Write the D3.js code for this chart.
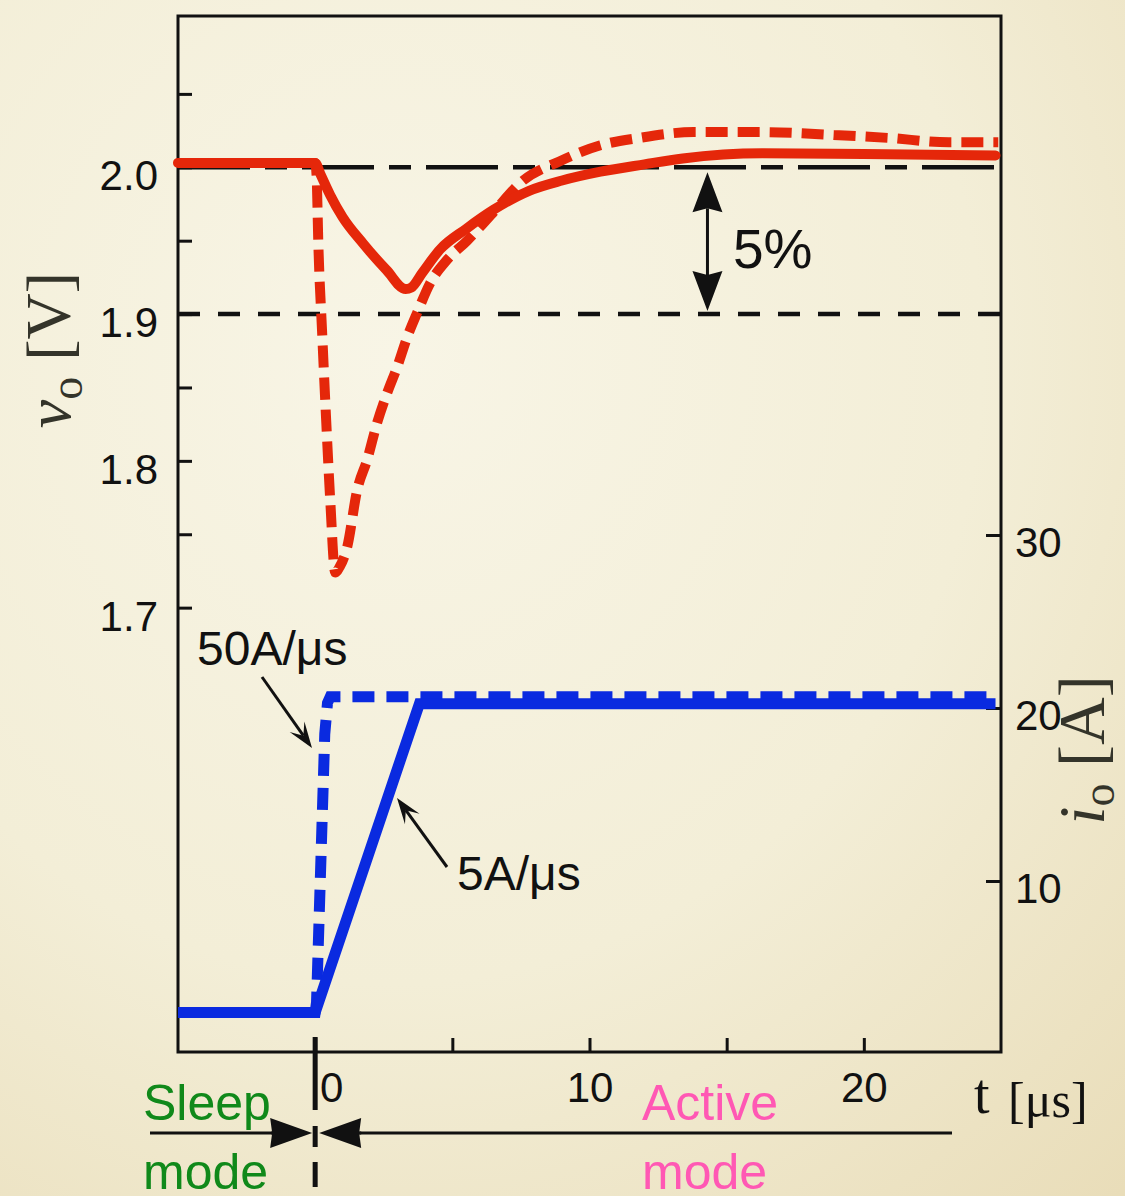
<!DOCTYPE html>
<html>
<head>
<meta charset="utf-8">
<script src="https://cdn.jsdelivr.net/npm/d3@7"></script>
<style>
  body { margin: 0; }
  svg { display: block; }
</style>
</head>
<body>
<div id="chart"></div>
<script>
"use strict";

// output voltage v_o [V] for the two load steps (t in us)
var voSlow = [
  [-5, 2.003], [0, 2.003], [0.2, 1.995], [0.55, 1.981], [1.0, 1.966], [1.75, 1.948],
  [2.6, 1.930], [3.3, 1.917], [3.5, 1.918], [3.9, 1.928], [4.55, 1.944], [5.5, 1.958],
  [6.5, 1.971], [7.8, 1.984], [9, 1.991], [10.4, 1.997], [12, 2.002], [13.4, 2.006],
  [16.3, 2.0095], [20, 2.009], [24.8, 2.008]
];
var voFast = [
  [-5, 2.003], [0, 2.003], [0.05, 1.995], [0.12, 1.945], [0.25, 1.889], [0.4, 1.828],
  [0.55, 1.773], [0.73, 1.724], [0.9, 1.728], [1.17, 1.7415], [1.53, 1.780], [1.9, 1.801],
  [2.26, 1.826], [2.62, 1.846], [2.99, 1.864], [3.35, 1.884], [3.72, 1.901], [4.19, 1.921],
  [4.81, 1.937], [5.54, 1.950], [6.48, 1.969], [7.58, 1.991], [8.9, 2.004], [10.4, 2.015],
  [11.8, 2.020], [13.8, 2.024], [16.2, 2.024], [18.9, 2.022], [20.9, 2.020], [23.1, 2.017],
  [24.9, 2.017]
];

// load current i_o [A]
var ioSlow = [[-5, 2.4], [0, 2.4], [3.8, 20.25], [24.8, 20.25]];
var ioFast = [[-5, 2.4], [0, 2.4], [0.05, 3], [0.35, 18.5], [0.45, 20.3], [0.55, 20.65], [24.9, 20.65]];

var refLevels = [2.0, 1.9];
var tickV = [1.7, 1.75, 1.8, 1.85, 1.9, 1.95, 2.0, 2.05];
var labelV = [1.7, 1.8, 1.9, 2.0];
var tickI = [10, 20, 30];
var tickT = [0, 5, 10, 15, 20];
var labelT = [0, 10, 20];

var W = 1125, H = 1196;
var frame = { left: 178, right: 1001, top: 16, bottom: 1052 };

var RED = "#e5270a", BLUE = "#0a2ae0", INK = "#111";

var svg = d3.select("#chart")
            .append("svg")
            .attr("width", W)
            .attr("height", H);

var defs = svg.append("defs");
var grad = defs.append("radialGradient")
               .attr("id", "bg")
               .attr("cx", "35%").attr("cy", "30%").attr("r", "95%");
grad.append("stop").attr("offset", "0%").attr("stop-color", "#f8f5e6");
grad.append("stop").attr("offset", "55%").attr("stop-color", "#f3eed7");
grad.append("stop").attr("offset", "100%").attr("stop-color", "#e9ddb9");

svg.append("rect")
   .attr("width", W).attr("height", H)
   .attr("fill", "url(#bg)");

var x = d3.scaleLinear().domain([-5, 25]).range([frame.left, frame.right]);
var yV = d3.scaleLinear().domain([1.4, 2.1]).range([1048, 20.5]);
var yI = d3.scaleLinear().domain([0, 60]).range([1054, 16]);

// reference levels 2.0 V and 1.9 V
svg.append("line")
   .attr("x1", x(-5)).attr("x2", 995)
   .attr("y1", yV(refLevels[0])).attr("y2", yV(refLevels[0]))
   .attr("stroke", INK).attr("stroke-width", 4.5)
   .attr("stroke-dasharray", "72,15,22,15");
svg.append("line")
   .attr("x1", x(-5)).attr("x2", x(25))
   .attr("y1", yV(refLevels[1])).attr("y2", yV(refLevels[1]))
   .attr("stroke", INK).attr("stroke-width", 4.5)
   .attr("stroke-dasharray", "22,18");

// frame
svg.append("rect")
   .attr("x", frame.left).attr("y", frame.top)
   .attr("width", frame.right - frame.left)
   .attr("height", frame.bottom - frame.top)
   .attr("fill", "none")
   .attr("stroke", INK)
   .attr("stroke-width", 3);

var fontSans = "'Liberation Sans', Arial, sans-serif";
var fontSerif = "'Liberation Serif', 'Times New Roman', serif";

// left axis (ticks inward, labels outside)
var axV = svg.append("g")
   .attr("transform", "translate(" + frame.left + ",0)")
   .call(d3.axisLeft(yV)
           .tickValues(tickV)
           .tickSizeInner(-14).tickSizeOuter(0)
           .tickPadding(20)
           .tickFormat(function (d) {
             return labelV.some(function (l) { return Math.abs(l - d) < 1e-6; }) ? d.toFixed(1) : "";
           }));
axV.select(".domain").remove();
axV.selectAll("line").attr("stroke", INK).attr("stroke-width", 3);
axV.selectAll("text")
   .attr("y", 9)
   .attr("fill", INK)
   .style("font-family", fontSans)
   .style("font-size", "42px");

// right axis
var axI = svg.append("g")
   .attr("transform", "translate(" + frame.right + ",0)")
   .call(d3.axisRight(yI)
           .tickValues(tickI)
           .tickSizeInner(-15).tickSizeOuter(0)
           .tickPadding(14)
           .tickFormat(d3.format("d")));
axI.select(".domain").remove();
axI.selectAll("line").attr("stroke", INK).attr("stroke-width", 3);
axI.selectAll("text")
   .attr("y", 8)
   .attr("fill", INK)
   .style("font-family", fontSans)
   .style("font-size", "42px");

// bottom axis
var axT = svg.append("g")
   .attr("transform", "translate(0," + frame.bottom + ")")
   .call(d3.axisBottom(x)
           .tickValues(tickT)
           .tickSizeInner(-14).tickSizeOuter(0)
           .tickPadding(20)
           .tickFormat(function (d) { return labelT.indexOf(d) != -1 ? d : ""; }));
axT.select(".domain").remove();
axT.selectAll("line").attr("stroke", INK).attr("stroke-width", 3);
axT.selectAll("text")
   .attr("fill", INK)
   .attr("x", function (d) { return d == 0 ? 16 : 0; })
   .style("font-family", fontSans)
   .style("font-size", "42px");

// curves
var lineV = d3.line()
              .x(function (d) { return x(d[0]); })
              .y(function (d) { return yV(d[1]); })
              .curve(d3.curveMonotoneX);
var lineI = d3.line()
              .x(function (d) { return x(d[0]); })
              .y(function (d) { return yI(d[1]); });

svg.append("path")
   .datum(ioFast)
   .attr("d", lineI)
   .attr("fill", "none")
   .attr("stroke", BLUE)
   .attr("stroke-width", 11)
   .attr("stroke-dasharray", "22,12");
svg.append("path")
   .datum(ioSlow)
   .attr("d", lineI)
   .attr("fill", "none")
   .attr("stroke", BLUE)
   .attr("stroke-width", 11);

svg.append("path")
   .datum(voFast)
   .attr("d", lineV)
   .attr("fill", "none")
   .attr("stroke", RED)
   .attr("stroke-width", 10)
   .attr("stroke-dasharray", "22,10");
svg.append("path")
   .datum(voSlow)
   .attr("d", lineV)
   .attr("fill", "none")
   .attr("stroke", RED)
   .attr("stroke-width", 10)
   .attr("stroke-linecap", "round")
   .attr("stroke-linejoin", "round");

// arrow helper: line from (x1,y1) to tip (x2,y2) with filled head
function arrow(g, x1, y1, x2, y2, len, half, notch, sw) {
  var a = Math.atan2(y2 - y1, x2 - x1);
  var ux = Math.cos(a), uy = Math.sin(a);
  var px = -uy, py = ux;
  g.append("line")
   .attr("x1", x1).attr("y1", y1)
   .attr("x2", x2 - ux * notch).attr("y2", y2 - uy * notch)
   .attr("stroke", INK).attr("stroke-width", sw);
  var pts = [
    [x2, y2],
    [x2 - ux * len + px * half, y2 - uy * len + py * half],
    [x2 - ux * notch, y2 - uy * notch],
    [x2 - ux * len - px * half, y2 - uy * len - py * half]
  ];
  g.append("path")
   .attr("d", "M" + pts.join("L") + "Z")
   .attr("fill", INK);
}

var ann = svg.append("g");

// 5% band arrow
var x5 = x(14.3);
arrow(ann, x5, 240, x5, yV(2.0) + 5, 40, 15, 36, 3);
arrow(ann, x5, 240, x5, yV(1.9) - 3, 40, 15, 36, 3);
ann.append("text")
   .attr("x", 733).attr("y", 268)
   .attr("fill", INK)
   .style("font-family", fontSans)
   .style("font-size", "55px")
   .text("5%");

// slew-rate labels
ann.append("text")
   .attr("x", 197).attr("y", 665)
   .attr("fill", INK)
   .style("font-family", fontSans)
   .style("font-size", "48px")
   .text("50A/μs");
arrow(ann, 262, 677, 312, 748, 26, 9, 15, 3);

ann.append("text")
   .attr("x", 457).attr("y", 890)
   .attr("fill", INK)
   .style("font-family", fontSans)
   .style("font-size", "48px")
   .text("5A/μs");
arrow(ann, 447, 867, 397, 798, 26, 9, 15, 3);

// axis titles
ann.append("text")
   .attr("x", 974).attr("y", 1113)
   .attr("fill", INK)
   .style("font-family", fontSerif)
   .style("font-size", "56px")
   .text("t");
ann.append("text")
   .attr("x", 1008).attr("y", 1117)
   .attr("fill", INK)
   .style("font-family", fontSerif)
   .style("font-size", "50px")
   .text("[μs]");

var titleV = ann.append("text")
   .attr("transform", "translate(70,350) rotate(-90)")
   .attr("text-anchor", "middle")
   .attr("fill", "#34342a")
   .style("font-family", fontSerif)
   .style("font-size", "64px");
titleV.append("tspan").style("font-style", "italic").text("v");
titleV.append("tspan").attr("dy", 12).style("font-size", "46px").text("o");
titleV.append("tspan").attr("dy", -12).text(" [V]");

var titleI = ann.append("text")
   .attr("transform", "translate(1104,750) rotate(-90)")
   .attr("text-anchor", "middle")
   .attr("fill", "#34342a")
   .style("font-family", fontSerif)
   .style("font-size", "66px");
titleI.append("tspan").style("font-style", "italic").text("i");
titleI.append("tspan").attr("dy", 10).style("font-size", "46px").text("o");
titleI.append("tspan").attr("dy", -10).text(" [A]");

// sleep / active divider
var x0 = x(0);
ann.append("line")
   .attr("x1", x0).attr("x2", x0)
   .attr("y1", frame.bottom - 15).attr("y2", 1187)
   .attr("stroke", INK).attr("stroke-width", 5)
   .attr("stroke-dasharray", "73,16,21,15,25");
var yMode = 1133;
ann.append("line")
   .attr("x1", 150).attr("x2", x0 - 40)
   .attr("y1", yMode).attr("y2", yMode)
   .attr("stroke", INK).attr("stroke-width", 3);
ann.append("line")
   .attr("x1", x0 + 44).attr("x2", 952)
   .attr("y1", yMode).attr("y2", yMode)
   .attr("stroke", INK).attr("stroke-width", 3);
arrow(ann, x0 - 44, yMode, x0 - 3, yMode, 42, 15, 40, 3);
arrow(ann, x0 + 46, yMode, x0 + 4, yMode, 42, 15, 40, 3);

var modeLabels = [
  { x: 143, color: "#10891a", lines: ["Sleep", "mode"] },
  { x: 642, color: "#ff58b4", lines: ["Active", "mode"] }
];
modeLabels.forEach(function (m) {
  m.lines.forEach(function (s, i) {
    ann.append("text")
       .attr("x", m.x).attr("y", 1120 + i * 69)
       .attr("fill", m.color)
       .style("font-family", fontSans)
       .style("font-size", "50px")
       .text(s);
  });
});
</script>
</body>
</html>
